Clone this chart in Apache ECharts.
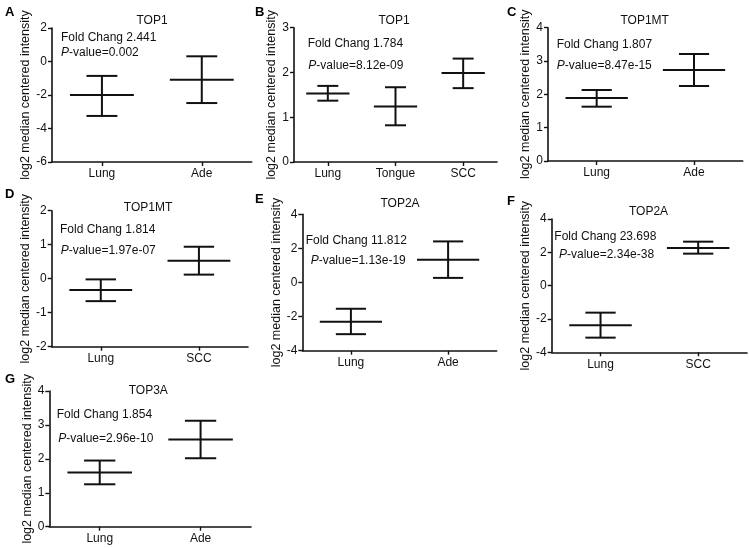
<!DOCTYPE html>
<html><head><meta charset="utf-8">
<script src="https://cdn.jsdelivr.net/npm/echarts@6/dist/echarts.min.js"></script>
<style>html,body{margin:0;padding:0;background:#fff}#c{width:750px;height:548px}</style>
</head><body><div id="c"></div>
<script>
// ---- data ----
const aCats = ['Lung', 'Ade'];
const aMean = [-2.0, -1.09];
const aLow = [-3.25, -2.48];
const aHigh = [-0.86, 0.31];

const bCats = ['Lung', 'Tongue', 'SCC'];
const bMean = [1.53, 1.24, 1.99];
const bLow = [1.37, 0.82, 1.65];
const bHigh = [1.70, 1.67, 2.31];

const cCats = ['Lung', 'Ade'];
const cMean = [1.89, 2.73];
const cLow = [1.63, 2.25];
const cHigh = [2.13, 3.21];

const dCats = ['Lung', 'SCC'];
const dMean = [-0.33, 0.53];
const dLow = [-0.66, 0.12];
const dHigh = [-0.02, 0.94];

const eCats = ['Lung', 'Ade'];
const eMean = [-2.30, 1.34];
const eLow = [-3.03, 0.27];
const eHigh = [-1.54, 2.41];

const fCats = ['Lung', 'SCC'];
const fMean = [-2.38, 2.26];
const fLow = [-3.12, 1.92];
const fHigh = [-1.62, 2.64];

const gCats = ['Lung', 'Ade'];
const gMean = [1.60, 2.57];
const gLow = [1.25, 2.02];
const gHigh = [1.95, 3.12];

const panelLetters = ['A', 'B', 'C', 'D', 'E', 'F', 'G'];
const panelTitles = ['TOP1', 'TOP1', 'TOP1MT', 'TOP1MT', 'TOP2A', 'TOP2A', 'TOP3A'];
const foldChanges = ['2.441', '1.784', '1.807', '1.814', '11.812', '23.698', '1.854'];
const pValues = ['0.002', '8.12e-09', '8.47e-15', '1.97e-07', '1.13e-19', '2.34e-38', '2.96e-10'];
const yMins = [-6, 0, 0, -2, -4, -4, 0];
const yMaxs = [2, 3, 4, 2, 4, 4, 4];
const yIntervals = [2, 1, 1, 1, 2, 2, 1];
const yAxisName = 'log2 median centered intensity';

// ---- layout (pixels) ----
const panels = [
  {cats: aCats, mean: aMean, low: aLow, high: aHigh, grid: [52, 28, 251.7, 162], nameGap: 19, letter: [5, 6], title: [152, 21], fold: [61, 38], p: [61, 53]},
  {cats: bCats, mean: bMean, low: bLow, high: bHigh, grid: [294, 27.7, 497, 162], nameGap: 14, letter: [255, 6], title: [394, 21], fold: [307.7, 43.5], p: [308.3, 66]},
  {cats: cCats, mean: cMean, low: cLow, high: cHigh, grid: [548, 27.7, 742.7, 161], nameGap: 14, letter: [507, 6], title: [644.7, 21], fold: [556.7, 44.5], p: [556.7, 66]},
  {cats: dCats, mean: dMean, low: dLow, high: dHigh, grid: [51.7, 210.7, 248, 346.7], nameGap: 17, letter: [5, 188], title: [148, 208], fold: [60, 230], p: [60.7, 251]},
  {cats: eCats, mean: eMean, low: eLow, high: eHigh, grid: [302.3, 214.3, 496.7, 350.7], nameGap: 16, letter: [255, 193], title: [400, 204], fold: [305.7, 241], p: [310.7, 261]},
  {cats: fCats, mean: fMean, low: fLow, high: fHigh, grid: [551.7, 219, 747, 352.3], nameGap: 15, letter: [507, 195], title: [648.5, 212], fold: [554.3, 236.7], p: [559, 255]},
  {cats: gCats, mean: gMean, low: gLow, high: gHigh, grid: [49.3, 391, 251, 526.7], nameGap: 11, letter: [5, 373], title: [148.3, 391], fold: [56.7, 415], p: [58.3, 439]}
];

const FONT = '"Liberation Sans", Arial, sans-serif';
const INK = '#111';

const grids = [], xAxes = [], yAxes = [], series = [], graphics = [];

panels.forEach((p, i) => {
  const [l, t, r, b] = p.grid;
  grids.push({left: l, top: t, width: r - l, height: b - t, containLabel: false});
  xAxes.push({
    type: 'category', gridIndex: i, data: p.cats, boundaryGap: true,
    axisLine: {onZero: false, lineStyle: {color: INK, width: 1.6}},
    axisTick: {show: true, alignWithLabel: true, length: 4, lineStyle: {color: INK, width: 1.4}},
    axisLabel: {color: INK, fontSize: 12, fontFamily: FONT, margin: 6},
    splitLine: {show: false}
  });
  yAxes.push({
    type: 'value', gridIndex: i, min: yMins[i], max: yMaxs[i], interval: yIntervals[i],
    name: yAxisName, nameLocation: 'middle', nameRotate: 90, nameGap: p.nameGap,
    nameTextStyle: {color: INK, fontSize: 12.5, fontFamily: FONT},
    axisLine: {show: true, onZero: false, lineStyle: {color: INK, width: 1.6}},
    axisTick: {show: true, length: 4, lineStyle: {color: INK, width: 1.4}},
    axisLabel: {color: INK, fontSize: 12, fontFamily: FONT, margin: 5},
    splitLine: {show: false}
  });
  const data = p.cats.map((c, k) => [k, p.mean[k], p.low[k], p.high[k]]);
  series.push({
    type: 'custom', xAxisIndex: i, yAxisIndex: i, data: data,
    encode: {x: 0, y: [1, 2, 3]},
    renderItem: function (params, api) {
      const idx = api.value(0);
      const m = api.coord([idx, api.value(1)]);
      const lo = api.coord([idx, api.value(2)]);
      const hi = api.coord([idx, api.value(3)]);
      const band = api.size([1, 0])[0];
      const mw = band * 0.32, cw = band * 0.155;
      const st = {stroke: INK, lineWidth: 2, fill: null};
      return {type: 'group', children: [
        {type: 'line', shape: {x1: m[0] - mw, y1: m[1], x2: m[0] + mw, y2: m[1]}, style: st},
        {type: 'line', shape: {x1: m[0], y1: hi[1], x2: m[0], y2: lo[1]}, style: st},
        {type: 'line', shape: {x1: m[0] - cw, y1: hi[1], x2: m[0] + cw, y2: hi[1]}, style: st},
        {type: 'line', shape: {x1: m[0] - cw, y1: lo[1], x2: m[0] + cw, y2: lo[1]}, style: st}
      ]};
    }
  });
  graphics.push({type: 'text', left: p.letter[0], top: p.letter[1],
    style: {text: panelLetters[i], fill: '#000', font: 'bold 13px ' + FONT}});
  graphics.push({type: 'text', x: p.title[0], y: p.title[1],
    style: {text: panelTitles[i], fill: INK, font: '12px ' + FONT, textAlign: 'center', textVerticalAlign: 'middle'}});
  graphics.push({type: 'text', x: p.fold[0], y: p.fold[1],
    style: {text: 'Fold Chang ' + foldChanges[i], fill: INK, font: '12px ' + FONT, textAlign: 'left', textVerticalAlign: 'middle'}});
  graphics.push({type: 'text', x: p.p[0], y: p.p[1],
    style: {text: '{i|P}-value=' + pValues[i], fill: INK, font: '12px ' + FONT, textAlign: 'left', textVerticalAlign: 'middle',
      rich: {i: {fontStyle: 'italic', fontSize: 12, fontFamily: FONT, fill: INK}}}});
});

const chart = echarts.init(document.getElementById('c'), null, {renderer: 'canvas'});
chart.setOption({
  backgroundColor: '#fff',
  animation: false,
  grid: grids, xAxis: xAxes, yAxis: yAxes, series: series, graphic: graphics
});
</script>
</body></html>
